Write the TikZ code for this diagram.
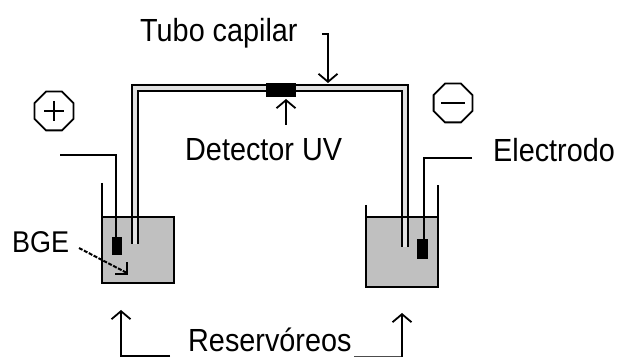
\documentclass[tikz,border=0pt]{standalone}
\usepackage{fontspec}
\setmainfont[FakeStretch=0.9]{Liberation Sans}
\usetikzlibrary{arrows.meta,shapes.geometric}
\tikzset{
  wire/.style={draw=black,line width=2.2pt,line cap=butt},
  liquid/.style={fill=liqgray,draw=none},
  block/.style={fill=black,draw=none,inner sep=0pt,minimum width=#1},
  lbl/.style={inner sep=0pt,anchor=base west,font=\fontsize{32}{35}\selectfont,text=black},
  pointer/.style={wire,-{Straight Barb[length=8pt,width=19pt,line width=1.8pt]}},
  sign/.style={regular polygon,regular polygon sides=8,draw=black,line width=1.8pt,minimum size=42pt,inner sep=0pt},
}
\definecolor{liqgray}{HTML}{C0C0C0}
\definecolor{tubefill}{HTML}{E0E0E0}
\begin{document}
\begin{tikzpicture}[x=1pt,y=-1pt]
\useasboundingbox (0,0) rectangle (619,358);
% liquids
\fill[liquid] (102,217) rectangle (174,283);
\fill[liquid] (366,217) rectangle (438,287);
% capillary
\fill[tubefill] (132,244) -- (132,84) -- (408,84) -- (408,247) -- (402,247) -- (402,91) -- (138,91) -- (138,244) -- cycle;
\draw[wire] (132,244) -- (132,85) -- (408,85) -- (408,247);
\draw[wire] (138,244) -- (138,91) -- (402,91) -- (402,247);
% beakers
\draw[wire] (102,183) -- (102,283) -- (174,283) -- (174,217) -- (102,217);
\draw[wire] (366,205) -- (366,287) -- (438,287) -- (438,185);
\draw[wire] (366,217) -- (438,217);
% electrodes
\node[block,minimum width=10pt,minimum height=18pt] (blockL) at (117,246) {};
\node[block,minimum width=11pt,minimum height=20pt] (blockR) at (422.5,249) {};
\coordinate (wireL) at (60,155);
\coordinate (wireR) at (472,158);
\draw[wire] (wireL) -- (116,155) -- (116,238);
\draw[wire] (wireR) -- (424,158) -- (424,240);
% detector
\node[block,minimum width=30pt,minimum height=14pt] (det) at (281,90) {};
% signs
\node[sign] (plus) at (54,111) {};
\draw[line width=1.8pt] (44,111) -- (64,111) (54,101) -- (54,121);
\node[sign] (minus) at (453,103) {};
\draw[line width=1.8pt] (441,103) -- (465,103);
% labels
\node[lbl] (tubo) at (140,42) {Tubo capilar};
\node[lbl] (detlbl) at (185,161) {Detector UV};
\node[lbl] (elec) at (493,162) {Electrodo};
\node[lbl,font=\fontsize{30}{33}\selectfont] (bge) at (12,253) {BGE};
\node[lbl] (res) at (188,352) {Reservóreos};
% arrows
\coordinate (tuboA) at (322,34);
\coordinate (tuboB) at (328,34);
\coordinate (tuboC) at (328,83);
\draw[pointer] (tuboA) -- (tuboB) -- (tuboC);
\coordinate (detA) at (286,125);
\draw[pointer] (detA) -- (286,99);
\coordinate (resLa) at (170,356);
\draw[pointer] (resLa) -- (121,356) -- (121,310);
\coordinate (resRa) at (354,356.5);
\draw[draw=black!70,line width=1pt] (resRa) -- (402,356.5);
\draw[pointer] (402,357) -- (402,313);
\coordinate (bgeA) at (79,248);
\coordinate (bgeB) at (127,273);
\draw[line width=2pt,dash pattern=on 4pt off 1.5pt] (bgeA) -- (bgeB);
\draw[line width=2pt] (115,274) -- (127,274) -- (127,262);
\end{tikzpicture}
\end{document}
